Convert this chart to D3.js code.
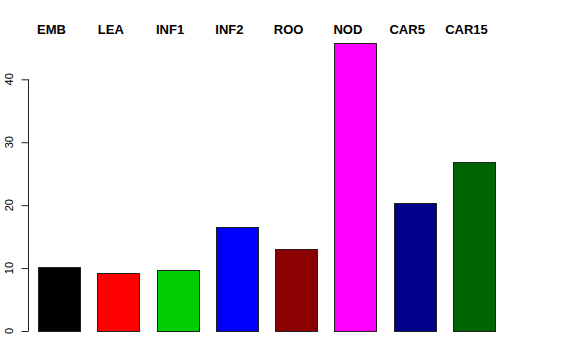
<!DOCTYPE html>
<html lang="en">
<head>
	<meta charset="utf-8">
	<title>Barplot</title>
	<script type="text/javascript" src="https://cdn.jsdelivr.net/npm/d3@7"></script>
	<style>
		body { margin: 0; background: white; }
		text { font-family: "Liberation Sans", Arial, sans-serif; }
	</style>
</head>
<body>
	<script type="text/javascript">
		var w = 576;
		var h = 360;

		// values
		var categories = ["EMB", "LEA", "INF1", "INF2", "ROO", "NOD", "CAR5", "CAR15"];
		var values = [10.1, 9.2, 9.7, 16.5, 13.1, 45.7, 20.4, 26.9];
		var colors = ["#000000", "#FF0000", "#00CD00", "#0000FF", "#8B0000", "#FF00FF", "#00008B", "#006400"];
		var yTicks = [0, 10, 20, 30, 40];

		var svg = d3.select("body")
					.append("svg")
					.attr("width", w)
					.attr("height", h);

		svg.append("rect")
		   .attr("width", w).attr("height", h)
		   .attr("fill", "white");

		var x = d3.scaleBand()
				  .domain(categories)
				  .range([38, 495])
				  .paddingInner(0.29)
				  .paddingOuter(0);

		var y = d3.scaleLinear()
				  .domain([0, 40])
				  .range([331, 79.3]);

		// bars
		svg.selectAll("rect.bar")
		   .data(categories)
		   .enter()
		   .append("rect")
		   .attr("class", "bar")
		   .attr("x", function(d) { return Math.round(x(d)) + 0.5; })
		   .attr("y", function(d, i) { return Math.round(y(values[i])) + 0.5; })
		   .attr("width", function(d) { return Math.round(x.bandwidth()); })
		   .attr("height", function(d, i) { return Math.round(y(0)) - Math.round(y(values[i])); })
		   .attr("fill", function(d, i) { return colors[i]; })
		   .attr("stroke", "#222")
		   .attr("stroke-width", 1);

		// left axis, R style: line only between first and last tick
		var axis = svg.append("g")
					  .attr("transform", "translate(28.5,0)")
					  .call(d3.axisLeft(y).tickValues(yTicks).tickSize(7).tickSizeOuter(0).tickFormat(""));
		axis.select(".domain").remove();
		axis.selectAll(".tick line").attr("stroke", "#222");
		axis.append("line")
			.attr("x1", 0).attr("x2", 0)
			.attr("y1", y(0)).attr("y2", y(40))
			.attr("stroke", "#222");

		svg.selectAll("text.ytick")
		   .data(yTicks)
		   .enter()
		   .append("text")
		   .attr("class", "ytick")
		   .attr("transform", function(d) { return "translate(12.5," + y(d) + ") rotate(-90)"; })
		   .attr("text-anchor", "middle")
		   .attr("font-size", "11px")
		   .attr("fill", "#000")
		   .text(function(d) { return d; });

		// group labels across the top
		svg.selectAll("text.cat")
		   .data(categories)
		   .enter()
		   .append("text")
		   .attr("class", "cat")
		   .attr("x", function(d) { return x(d) + x.bandwidth() / 2 - 7.5; })
		   .attr("y", 33.5)
		   .attr("text-anchor", "middle")
		   .attr("font-size", "13px")
		   .attr("font-weight", "bold")
		   .attr("fill", "#000")
		   .text(function(d) { return d; });
	</script>
</body>
</html>
